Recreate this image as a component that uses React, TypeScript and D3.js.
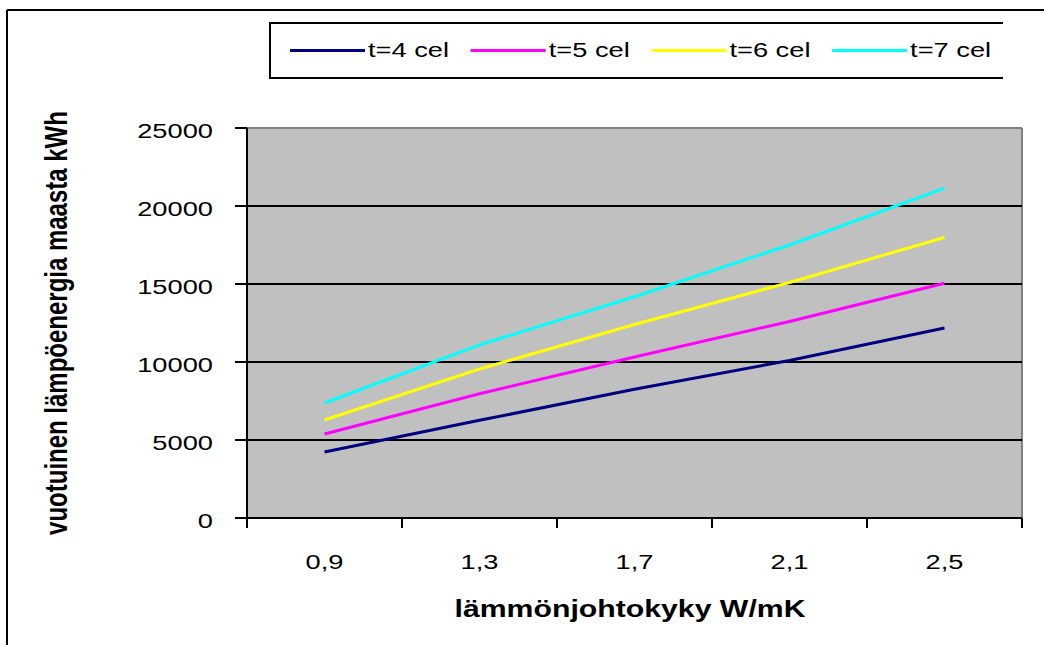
import * as d3 from 'd3';

const categories = ['0,9', '1,3', '1,7', '2,1', '2,5'];
const seriesNames = ['t=4 cel', 't=5 cel', 't=6 cel', 't=7 cel'];
const t4 = [4230, 6260, 8250, 10100, 12180];
const t5 = [5380, 7960, 10320, 12600, 15050];
const t6 = [6280, 9550, 12400, 15100, 17980];
const t7 = [7370, 11100, 14180, 17500, 21150];
const yTicks = [0, 5000, 10000, 15000, 20000, 25000];
const colors = ['#000080', '#FF00FF', '#FFFF00', '#00FFFF'];

const W = 1044;
const H = 645;
const plot = { left: 247, right: 1022, top: 128, bottom: 518 };
const sx = 1.33; // the original picture is stretched sideways
const font = 'Arial, "Liberation Sans", sans-serif';

const App = () => {
  const x = d3.scaleBand().domain(categories).range([plot.left, plot.right]).padding(0);
  const y = d3.scaleLinear().domain([0, 25000]).range([plot.bottom, plot.top]);
  const series = [t4, t5, t6, t7];
  const line = d3.line<number>()
    .x((_, i) => x(categories[i])! + x.bandwidth() / 2)
    .y(d => y(d));
  const bounds = categories.map(c => x(c)!).concat(plot.right);

  return (
    <svg width={W} height={H} style={{ position: 'absolute', left: 0, top: 0, background: '#fff' }}>
      {/* outer chart frame, cut off at the right and bottom */}
      <line x1={7} y1={10} x2={W} y2={10} stroke="#000" strokeWidth={2} />
      <line x1={7} y1={10} x2={7} y2={H} stroke="#000" strokeWidth={2} />

      {/* legend box, open on the right */}
      <polyline points="1003,23 270,23 270,78 1003,78" fill="none" stroke="#000" strokeWidth={2} />
      {seriesNames.map((name, i) => {
        const x0 = 290 + i * 180.7;
        return (
          <g key={name}>
            <line x1={x0} y1={50.5} x2={x0 + 75} y2={50.5} stroke={colors[i]} strokeWidth={3} />
            <text transform={`translate(${x0 + 78},57) scale(${sx},1)`} fontFamily={font} fontSize={20.5} fill="#000">{name}</text>
          </g>
        );
      })}

      {/* plot area */}
      <rect x={plot.left} y={plot.top} width={plot.right - plot.left} height={plot.bottom - plot.top} fill="#C0C0C0" />
      <line x1={plot.left} y1={plot.top} x2={plot.right} y2={plot.top} stroke="#808080" strokeWidth={2} />
      <line x1={plot.right} y1={plot.top} x2={plot.right} y2={plot.bottom} stroke="#808080" strokeWidth={2} />
      {yTicks.filter(v => v > 0 && v < 25000).map(v => (
        <line key={v} x1={plot.left} y1={y(v)} x2={plot.right} y2={y(v)} stroke="#000" strokeWidth={2} />
      ))}

      {/* series */}
      {series.map((s, i) => (
        <path key={i} d={line(s)!} fill="none" stroke={colors[i]} strokeWidth={3} />
      ))}

      {/* y axis */}
      <line x1={plot.left} y1={plot.top} x2={plot.left} y2={plot.bottom + 10} stroke="#000" strokeWidth={2} />
      {yTicks.map(v => (
        <g key={v}>
          <line x1={235} y1={y(v)} x2={plot.left} y2={y(v)} stroke="#000" strokeWidth={2} />
          <text transform={`translate(213,${y(v) + 9.5}) scale(${sx},1)`} textAnchor="end" fontFamily={font} fontSize={20.5} fill="#000">{v}</text>
        </g>
      ))}

      {/* x axis */}
      <line x1={plot.left - 11} y1={plot.bottom} x2={plot.right} y2={plot.bottom} stroke="#000" strokeWidth={2} />
      {bounds.map((b, i) => (
        <line key={i} x1={b} y1={plot.bottom} x2={b} y2={plot.bottom + 10} stroke="#000" strokeWidth={2} />
      ))}
      {categories.map(c => (
        <text key={c} transform={`translate(${x(c)! + x.bandwidth() / 2},569) scale(${sx},1)`} textAnchor="middle" fontFamily={font} fontSize={20.5} fill="#000">{c}</text>
      ))}

      {/* axis titles */}
      <text transform={`translate(630,617) scale(1.26,1)`} textAnchor="middle" fontFamily={font} fontSize={24} fontWeight="bold" fill="#000">lämmönjohtokyky W/mK</text>
      <text transform={`translate(67,323) rotate(-90) scale(1,${sx})`} textAnchor="middle" fontFamily={font} fontSize={24} fontWeight="bold" fill="#000">vuotuinen lämpöenergia maasta kWh</text>
    </svg>
  );
};

export default App;
